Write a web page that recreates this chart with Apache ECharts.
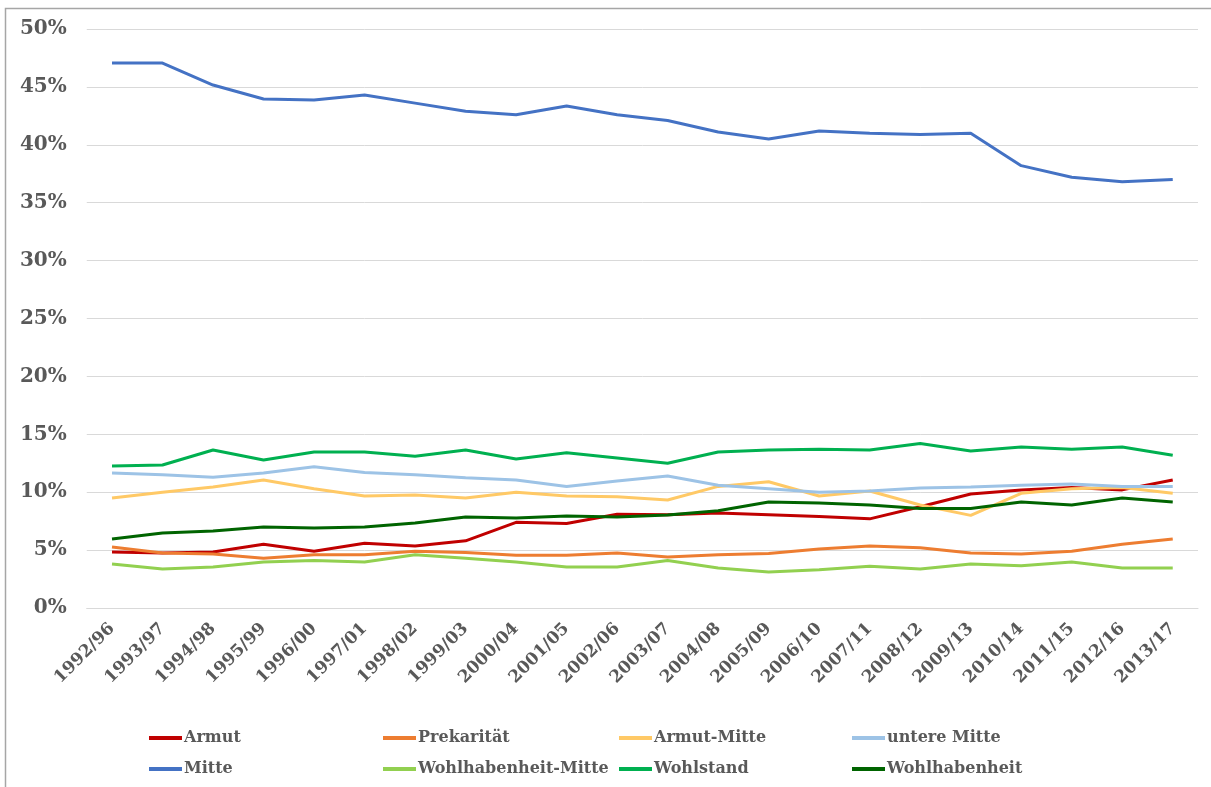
<!DOCTYPE html>
<html>
<head>
<meta charset="utf-8">
<script src="https://cdn.jsdelivr.net/npm/echarts@6/dist/echarts.min.js"></script>
<style>
html,body{margin:0;padding:0;background:#fff;}
#c{width:1211px;height:787px;}
</style>
</head>
<body>
<div id="c"></div>
<script>
const categories = ['1992/96','1993/97','1994/98','1995/99','1996/00','1997/01','1998/02','1999/03','2000/04','2001/05','2002/06','2003/07','2004/08','2005/09','2006/10','2007/11','2008/12','2009/13','2010/14','2011/15','2012/16','2013/17'];

const armut = [4.84,4.75,4.84,5.5,4.9,5.6,5.35,5.8,7.4,7.3,8.1,8.05,8.2,8.05,7.9,7.7,8.75,9.85,10.2,10.4,10.2,11.05];
const prekaritaet = [5.27,4.75,4.66,4.3,4.6,4.6,4.9,4.8,4.55,4.55,4.75,4.4,4.6,4.7,5.1,5.35,5.2,4.75,4.66,4.9,5.5,5.96];
const armutMitte = [9.5,10.0,10.45,11.05,10.3,9.67,9.76,9.5,10.0,9.67,9.6,9.33,10.5,10.9,9.67,10.1,8.9,8.0,9.9,10.3,10.4,9.9];
const untereMitte = [11.66,11.5,11.3,11.66,12.2,11.7,11.5,11.25,11.05,10.5,10.97,11.4,10.6,10.3,10.0,10.1,10.36,10.45,10.6,10.7,10.5,10.5];
const mitte = [47.06,47.06,45.16,43.96,43.87,44.3,43.6,42.9,42.6,43.35,42.6,42.1,41.1,40.5,41.2,41.0,40.9,41.0,38.2,37.2,36.8,37.0];
const wohlMitte = [3.8,3.37,3.54,3.97,4.1,3.97,4.6,4.3,3.97,3.54,3.54,4.1,3.45,3.1,3.3,3.6,3.37,3.8,3.65,3.97,3.45,3.45];
const wohlstand = [12.26,12.35,13.64,12.78,13.47,13.47,13.1,13.64,12.87,13.4,12.95,12.5,13.47,13.64,13.7,13.64,14.2,13.56,13.9,13.7,13.9,13.2];
const wohlhabenheit = [5.96,6.48,6.65,7.0,6.9,7.0,7.34,7.86,7.77,7.95,7.86,8.03,8.4,9.15,9.07,8.9,8.6,8.6,9.15,8.9,9.5,9.15];

const yTicks = {min:0, max:50, interval:5};

const seriesDef = [
  {name:'Armut', data:armut, color:'#C00000'},
  {name:'Prekarität', data:prekaritaet, color:'#ED7D31'},
  {name:'Armut-Mitte', data:armutMitte, color:'#FFC966'},
  {name:'untere Mitte', data:untereMitte, color:'#9DC3E6'},
  {name:'Mitte', data:mitte, color:'#4472C4'},
  {name:'Wohlhabenheit-Mitte', data:wohlMitte, color:'#92D050'},
  {name:'Wohlstand', data:wohlstand, color:'#00B050'},
  {name:'Wohlhabenheit', data:wohlhabenheit, color:'#006400'}
];

const legendCols = [
  ['Armut','Mitte'],
  ['Prekarität','Wohlhabenheit-Mitte'],
  ['Armut-Mitte','Wohlstand'],
  ['untere Mitte','Wohlhabenheit']
];
const legendLeft = [144, 378, 614, 847];

const txt = '#595959';
const chart = echarts.init(document.getElementById('c'));
chart.setOption({
  backgroundColor:'#fff',
  animation:false,
  graphic:[{
    type:'rect', silent:true,
    shape:{x:5.5, y:8.5, width:1400, height:1000},
    style:{fill:'none', stroke:'#a6a6a6', lineWidth:1.5}
  }],
  grid:{left:86.75, right:13, top:29, bottom:179, containLabel:false},
  legend: legendCols.map((col,i)=>({
    orient:'vertical',
    left:legendLeft[i], top:725,
    itemGap:15,
    itemWidth:33, itemHeight:4,
    icon:'rect',
    data:col,
    textStyle:{fontFamily:'DejaVu Serif', fontWeight:'bold', fontSize:16, color:txt, padding:[0,0,0,-3]}
  })),
  xAxis:{
    type:'category', data:categories, boundaryGap:true,
    axisLine:{show:true, lineStyle:{color:'#d9d9d9'}},
    axisTick:{show:false},
    axisLabel:{rotate:45, interval:0, margin:18, color:txt, fontFamily:'DejaVu Serif', fontWeight:'bold', fontSize:17}
  },
  yAxis:{
    type:'value', min:yTicks.min, max:yTicks.max, interval:yTicks.interval,
    axisLine:{show:false}, axisTick:{show:false},
    splitLine:{lineStyle:{color:'#d9d9d9', width:1}},
    axisLabel:{formatter:'{value}%', margin:20, color:txt, fontFamily:'DejaVu Serif', fontWeight:'bold', fontSize:20}
  },
  series: seriesDef.map(s=>({
    name:s.name, type:'line', data:s.data, symbol:'none',
    color:s.color,
    lineStyle:{width:3, color:s.color},
    itemStyle:{color:s.color}
  }))
});
</script>
</body>
</html>
